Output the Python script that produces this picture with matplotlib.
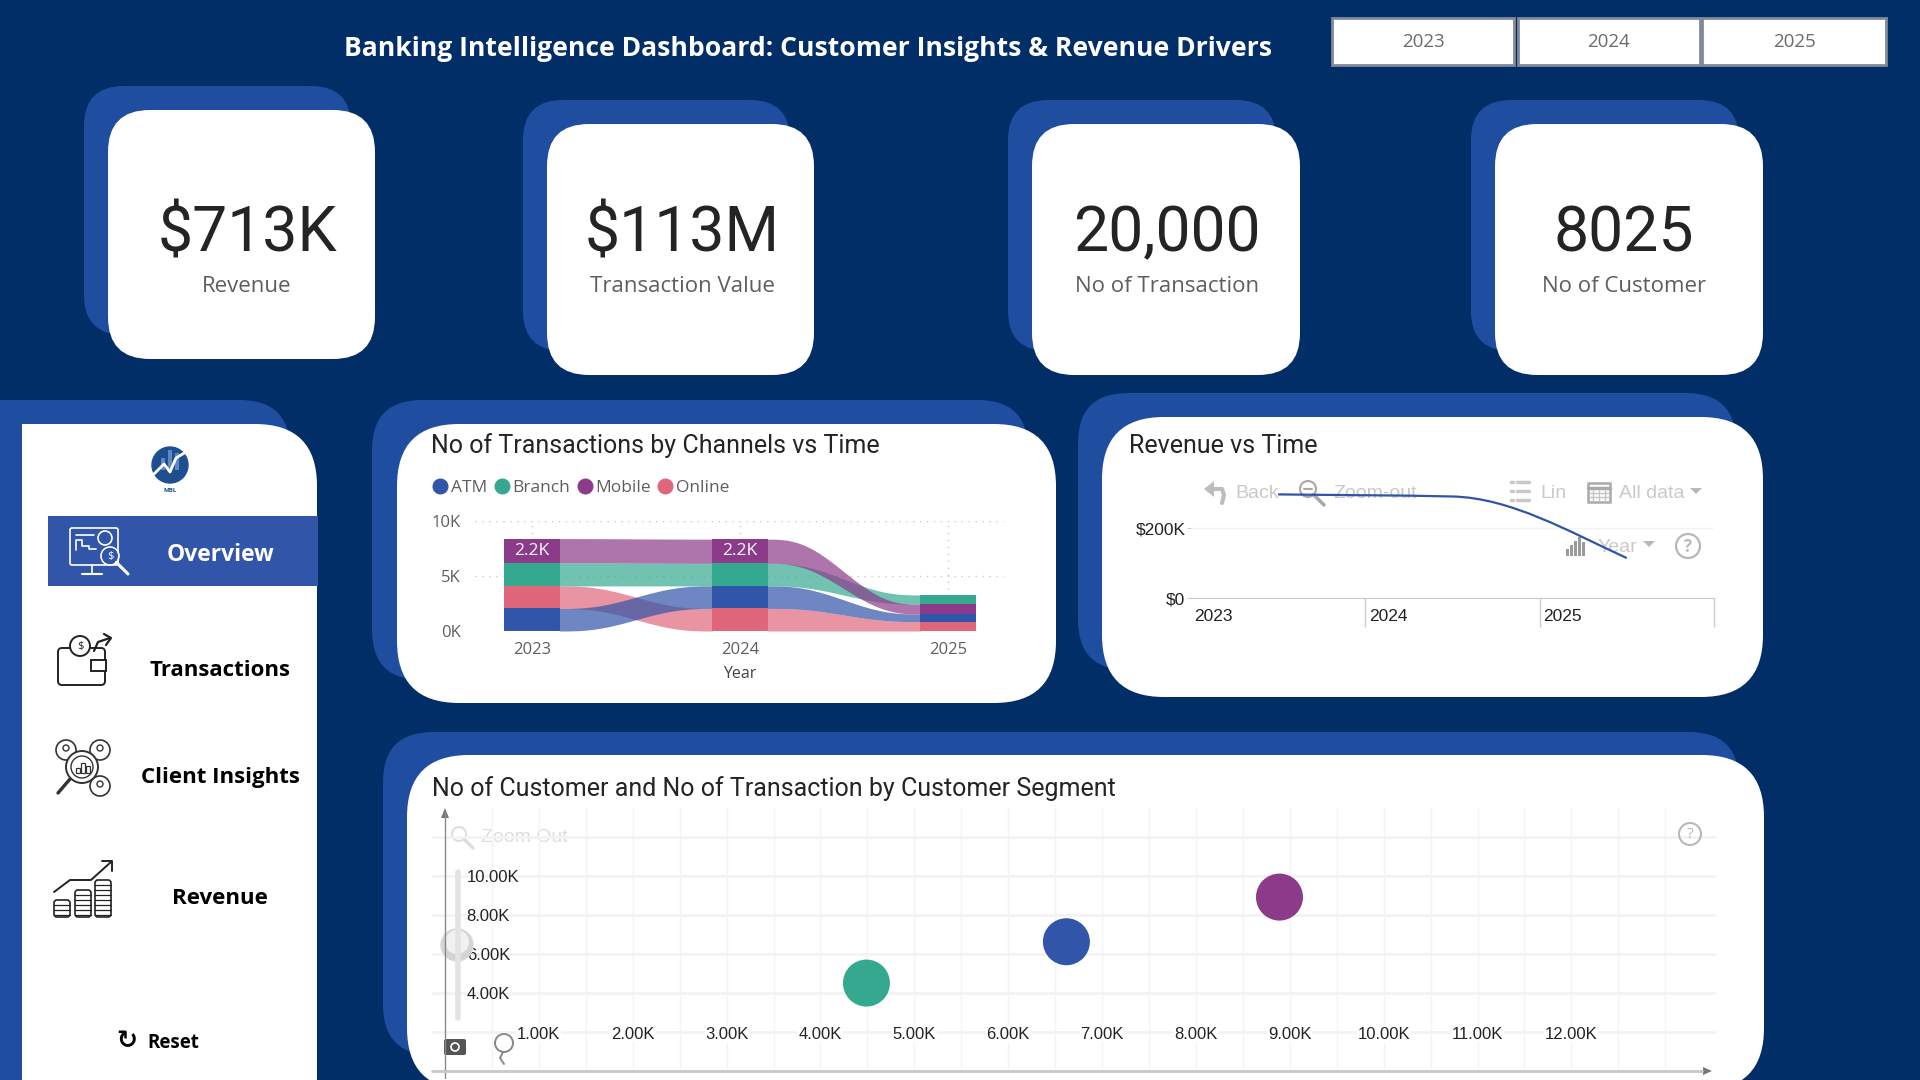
import numpy as np
import matplotlib
matplotlib.use("Agg")
import matplotlib.pyplot as plt
from matplotlib.lines import Line2D
from matplotlib.patches import Circle, FancyBboxPatch, PathPatch, Polygon, Rectangle
from matplotlib.path import Path

plt.rcParams["font.family"] = ["Open Sans", "DejaVu Sans"]

W, H = 1920, 1080
NAVY = "#012E67"
BLUE = "#1F4EA1"
GREY_TXT = "#605E5C"
TOOL = "#c9c9c9"

# --- data -----------------------------------------------------------------
title = "Banking Intelligence Dashboard: Customer Insights & Revenue Drivers"
year_buttons = ["2023", "2024", "2025"]
kpi_values = ["$713K", "$113M", "20,000", "8025"]
kpi_labels = ["Revenue", "Transaction Value", "No of Transaction", "No of Customer"]
nav_items = ["Transactions", "Client Insights", "Revenue"]

years = ["2023", "2024", "2025"]
channels = ["ATM", "Branch", "Mobile", "Online"]
channel_colours = ["#3155A8", "#35A98F", "#8C3A8A", "#E0677B"]
atm_tx = [2.05, 2.05, 0.70]
branch_tx = [2.10, 2.05, 0.85]
mobile_tx = [2.20, 2.20, 0.88]
online_tx = [2.05, 2.05, 0.85]
stack_2023 = ["ATM", "Online", "Branch", "Mobile"]
stack_2024 = ["Online", "ATM", "Branch", "Mobile"]
stack_2025 = ["Online", "ATM", "Mobile", "Branch"]

revenue_k = [296, 290, 114]

seg_transactions = [4.49, 6.62, 8.89]
seg_customers = [4.51, 6.63, 8.92]
seg_colours = ["#35A98F", "#3155A8", "#8C3A8A"]
x_labels = ["1.00K", "2.00K", "3.00K", "4.00K", "5.00K", "6.00K",
            "7.00K", "8.00K", "9.00K", "10.00K", "11.00K", "12.00K"]
x_label_pos = [1, 2, 3, 4, 5, 6, 7, 8, 9, 10, 11, 12]
y_labels = ["4.00K", "6.00K", "8.00K", "10.00K", ""]
y_label_pos = [4, 6, 8, 10, 12]


def px_axes(x0, y0, x1, y1, **kw):
    # axes placed by screen pixels, y measured from the top
    return fig.add_axes([x0 / W, 1 - y1 / H, (x1 - x0) / W, (y1 - y0) / H], **kw)


fig = plt.figure(figsize=(W / 100, H / 100), dpi=100, facecolor=NAVY)
bg = fig.add_axes([0, 0, 1, 1], zorder=0)
bg.set_xlim(0, W)
bg.set_ylim(H, 0)
bg.axis("off")


def card(x0, y0, x1, y1, r, colour, ax=bg, ec="none", lw=0):
    ax.add_patch(FancyBboxPatch((x0 + r, y0 + r), x1 - x0 - 2 * r, y1 - y0 - 2 * r,
                                boxstyle=f"round,pad={r},rounding_size={r}",
                                fc=colour, ec=ec, lw=lw))


def label(x, y, s, size=12, colour="#000000", ha="center", ax=bg, **kw):
    ax.text(x, y, s, fontsize=size, color=colour, ha=ha, va="center", **kw)


def line(xs, ys, colour, lw=1.5, ax=bg):
    ax.plot(xs, ys, color=colour, lw=lw, solid_capstyle="round")


def ring(x, y, r, colour, lw=1.5, fc="none", ax=bg):
    ax.add_patch(Circle((x, y), r, fc=fc, ec=colour, lw=lw))


def magnifier(x, y, r, colour, lw=1.5, ax=bg):
    ring(x, y, r, colour, lw, ax=ax)
    line([x + r * 0.7, x + r * 2], [y + r * 0.7, y + r * 2], colour, lw + 1, ax=ax)


# --- header and KPI cards -------------------------------------------------
label(808, 49, title, size=19.1, colour="white", fontweight="bold")
for i, (x0, x1) in enumerate([(1332, 1514), (1518, 1700), (1702, 1886)]):
    bg.add_patch(Rectangle((x0, 18), x1 - x0, 47, fc="white", ec="#808a98", lw=2))
    label((x0 + x1) / 2, 42, year_buttons[i], size=13.5, colour="#6b6b6b")

kpi_boxes = [(108, 375, 110, 359), (547, 814, 124, 375),
             (1032, 1300, 124, 375), (1495, 1763, 124, 375)]
kpi_centres = [247, 682, 1167, 1624]
for i, (x0, x1, y0, y1) in enumerate(kpi_boxes):
    card(x0 - 24, y0 - 24, x1 - 24, y1 - 24, 40, BLUE)
    card(x0, y0, x1, y1, 42, "white")
    label(kpi_centres[i], 234, kpi_values[i], size=45, colour="#252423", family="Roboto")
    label(kpi_centres[i], 287, kpi_labels[i], size=16, colour=GREY_TXT)

# --- sidebar --------------------------------------------------------------
card(-60, 400, 290, 1200, 50, BLUE)
card(22, 424, 317, 1200, 62, "white")
bg.add_patch(Rectangle((22, 424), 100, 100, fc="white", ec="none"))
ring(170, 465, 18, BLUE, 1, fc="#1F4E8F")
for bx, bh in zip([161, 168, 175], [12, 20, 17]):
    bg.add_patch(Rectangle((bx, 470 - bh), 4, bh, fc="#5f86c6", ec="none"))
line([154, 164, 170, 176, 186], [474, 464, 472, 458, 452], "white", 2)
label(170, 490, "MBL", size=4.5, colour="#1F4E8F", fontweight="bold")

bg.add_patch(Rectangle((48, 516), 270, 70, fc="#3155A8", ec="none"))
label(221, 555, "Overview", size=16.5, colour="white", fontweight="bold")
for y, s in zip([670, 777, 898], nav_items):
    label(220, y, s, size=16, fontweight="bold")
label(173, 1043, "Reset", size=13.5, fontweight="bold", ha="center")
label(127, 1041, "\u21bb", size=18, fontweight="bold", family="DejaVu Sans")

# overview icon
bg.add_patch(FancyBboxPatch((70, 528), 48, 37, boxstyle="round,pad=0,rounding_size=2",
                            fc="none", ec="white", lw=1.2))
line([92, 92], [565, 573], "white", 1.2)
line([82, 102], [574, 574], "white", 1.5)
line([76, 76, 82, 82, 89, 89, 96], [550, 540, 540, 546, 546, 549, 549], "white", 1.2)
line([76, 94], [535, 535], "white", 1.2)
ring(105, 538, 7, "white", 1.2)
magnifier(110, 556, 9, "white", 1.2)
bg.add_patch(Circle((110, 556), 8, fc="#3155A8", ec="none"))
label(110, 556, "$", size=8, colour="white")

# wallet icon
bg.add_patch(FancyBboxPatch((58, 648), 47, 37, boxstyle="round,pad=0,rounding_size=4",
                            fc="white", ec="#222222", lw=1.4))
bg.add_patch(Rectangle((91, 660), 15, 11, fc="white", ec="#222222", lw=1.4))
ring(80, 646, 10, "#222222", 1.4, fc="white")
label(80, 646, "$", size=8, colour="#222222")
line([94, 98, 110], [651, 642, 638], "#222222", 1.6)
line([104, 111, 106], [634, 638, 645], "#222222", 1.6)

# people icon
for cx, cy in [(66, 750), (100, 750), (100, 786)]:
    ring(cx, cy, 10, "#333333", 1.2, fc="white")
    ring(cx, cy - 2, 3, "#333333", 1)
ring(82, 767, 16, "#333333", 1.4, fc="white")
line([70, 58], [779, 793], "#333333", 2.4)
ring(82, 767, 11, "#333333", 1)
for bx, bh in zip([76, 81, 86], [5, 10, 7]):
    bg.add_patch(Rectangle((bx, 773 - bh), 4, bh, fc="white", ec="#333333", lw=0.9))

# coins icon
for cx, y_top in zip([62, 83, 103], [900, 890, 880]):
    bg.add_patch(FancyBboxPatch((cx - 8, y_top), 16, 917 - y_top,
                                boxstyle="round,pad=0,rounding_size=3",
                                fc="white", ec="#222222", lw=1.2))
    for ly in np.arange(y_top + 5, 917, 5):
        line([cx - 8, cx + 8], [ly, ly], "#222222", 0.9)
line([54, 70, 91, 111], [892, 880, 880, 862], "#222222", 1.4)
line([102, 112, 112], [861, 861, 871], "#222222", 1.4)

# --- chart cards ----------------------------------------------------------
card(372, 400, 1028, 680, 50, BLUE)
card(397, 424, 1056, 703, 62, "white")
card(1078, 393, 1736, 670, 50, BLUE)
card(1102, 417, 1763, 697, 62, "white")
card(383, 732, 1739, 1055, 50, BLUE)
card(407, 755, 1764, 1090, 62, "white")

label(431, 446, "No of Transactions by Channels vs Time", size=18, colour="#252423",
      ha="left", family="Roboto")
label(1129, 446, "Revenue vs Time", size=18, colour="#252423", ha="left", family="Roboto")
label(432, 789, "No of Customer and No of Transaction by Customer Segment", size=18,
      colour="#252423", ha="left", family="Roboto")

# --- ribbon chart ---------------------------------------------------------
ax1 = px_axes(475, 521, 1004, 631, facecolor="none", zorder=2)
values = {"ATM": atm_tx, "Branch": branch_tx, "Mobile": mobile_tx, "Online": online_tx}
colours = dict(zip(channels, channel_colours))
stacks = [stack_2023, stack_2024, stack_2025]
x_pos = np.arange(len(years))
bar_w = 0.264

bottoms = []
for i, order in enumerate(stacks):
    running = 0.0
    base = {}
    for ch in order:
        base[ch] = running
        running += values[ch][i]
    bottoms.append(base)

t = np.linspace(0, 1, 80)
ease = t ** 3 * (t * (6 * t - 15) + 10)
for ch in ["Online", "ATM", "Branch", "Mobile"]:
    for i in range(len(years) - 1):
        lo = bottoms[i][ch] + (bottoms[i + 1][ch] - bottoms[i][ch]) * ease
        top0 = bottoms[i][ch] + values[ch][i]
        top1 = bottoms[i + 1][ch] + values[ch][i + 1]
        hi = top0 + (top1 - top0) * ease
        xs = x_pos[i] + bar_w / 2 + (1 - bar_w) * t
        ax1.fill_between(xs, lo, hi, color=colours[ch], alpha=0.7, lw=0, zorder=2)
    for i in range(len(years)):
        ax1.bar(x_pos[i], values[ch][i], bottom=bottoms[i][ch], width=bar_w + 0.004,
                color=colours[ch], lw=0, zorder=3)

for i in (0, 1):
    ax1.text(x_pos[i], bottoms[i]["Mobile"] + mobile_tx[i] / 2, f"{mobile_tx[i]:.1f}K",
             color="white", fontsize=12.5, ha="center", va="center", zorder=4)

ax1.set_xlim(-0.274, 2.27)
ax1.set_ylim(0, 10)
ax1.set_xticks(x_pos, years)
ax1.set_yticks([0, 5, 10], ["0K", "5K", "10K"])
ax1.tick_params(length=0, labelsize=12, labelcolor=GREY_TXT)
ax1.tick_params(axis="x", pad=8)
ax1.tick_params(axis="y", pad=10)
ax1.set_xlabel("Year", fontsize=11.5, color="#444444", labelpad=5.5)
ax1.grid(True, linestyle=(0, (1, 4)), color="#c8c8c8", linewidth=1)
ax1.set_axisbelow(True)
for s in ax1.spines.values():
    s.set_visible(False)

legend_handles = [Line2D([], [], marker="o", ls="none", ms=10.5, color=c, label=n)
                  for n, c in zip(channels, channel_colours)]
ax1.legend(handles=legend_handles, ncol=4, frameon=False, fontsize=12.5,
           labelcolor=GREY_TXT, loc="center left", bbox_to_anchor=(-0.079, 1.30),
           handlelength=0.8, handletextpad=0.2, columnspacing=0.45, borderpad=0, borderaxespad=0)

# --- revenue toolbar and line ---------------------------------------------
tool_font = {"size": 14, "colour": TOOL, "family": "Liberation Sans"}
label(1235, 493, "Back", ha="left", **tool_font)
label(1333, 493, "Zoom-out", ha="left", **tool_font)
label(1540, 493, "Lin", ha="left", **tool_font)
label(1619, 493, "All data", ha="left", **tool_font)
label(1598, 548, "Year", ha="left", **tool_font)
# back arrow
line([1210, 1222, 1224, 1222], [489, 489, 495, 503], "#bdbdbd", 3)
bg.add_patch(Polygon([(1204, 489), (1214, 481), (1214, 497)], fc="#bdbdbd", ec="none"))
magnifier(1308, 489, 8, "#a8a8a8", 1.5)
line([1304, 1312], [489, 489], "#a8a8a8", 1.5)
for ly in [482, 491, 500]:
    line([1511, 1513], [ly, ly], TOOL, 2.5)
    line([1517, 1529], [ly, ly], TOOL, 2.5)
bg.add_patch(Rectangle((1588, 483), 22, 19, fc="none", ec="#aaaaaa", lw=1.8))
line([1588, 1610], [488, 488], "#aaaaaa", 2.5)
for gx in [1593, 1599, 1605]:
    line([gx, gx], [490, 500], "#c4c4c4", 1)
for gy in [493, 497]:
    line([1589, 1609], [gy, gy], "#c4c4c4", 1)
for bx, bh in zip([1566, 1570, 1574, 1578, 1582], [7, 11, 15, 19, 14]):
    bg.add_patch(Rectangle((bx, 556 - bh), 3, bh, fc="#9a9a9a", ec="none"))
for cx, cy in [(1696, 491), (1649, 544)]:
    bg.add_patch(Polygon([(cx - 6, cy - 3), (cx + 6, cy - 3), (cx, cy + 3)], fc="#b8b8b8", ec="none"))
ring(1688, 546, 12, "#b8b8b8", 1.6)
label(1688, 547, "?", size=12, colour="#b8b8b8", fontweight="bold")

ax2 = px_axes(1191, 458, 1714, 598, facecolor="none", zorder=2)
cx = np.array([0.5, 1.5, 2.5])
d0, d1 = revenue_k[1] - revenue_k[0], revenue_k[2] - revenue_k[1]
m0 = d0
m1 = 2 * d0 * d1 / (d0 + d1)
m2 = 1.3 * d1
verts = [(cx[0], revenue_k[0]),
         (cx[0] + 1 / 3, revenue_k[0] + m0 / 3), (cx[1] - 1 / 3, revenue_k[1] - m1 / 3), (cx[1], revenue_k[1]),
         (cx[1] + 1 / 3, revenue_k[1] + m1 / 3), (cx[2] - 1 / 3, revenue_k[2] - m2 / 3), (cx[2], revenue_k[2])]
codes = [Path.MOVETO] + [Path.CURVE4] * 6
ax2.add_patch(PathPatch(Path(verts, codes), fc="none", ec="#2F55A4", lw=1.6, zorder=3))
ax2.set_xlim(0, 3)
ax2.set_ylim(0, 400)
ax2.set_yticks([0, 200], ["$0", "$200K"])
ax2.set_xticks([1, 2, 3], minor=True)
ax2.set_xticks([0.02, 1.02, 2.02], years, ha="left")
ax2.tick_params(axis="x", which="major", length=0, pad=8, labelsize=12.5, labelcolor="#222222",
                labelfontfamily="Liberation Sans")
ax2.tick_params(axis="x", which="minor", length=21, color="#cccccc", width=1)
ax2.tick_params(axis="y", length=3, color="#cccccc", pad=1, labelsize=12.5, labelcolor="#222222",
                labelfontfamily="Liberation Sans")
ax2.grid(True, axis="y", color="#f3f3f3", lw=1)
ax2.set_axisbelow(True)
for s in ("top", "left", "right"):
    ax2.spines[s].set_visible(False)
ax2.spines["bottom"].set_color("#cccccc")

# --- bubble chart ---------------------------------------------------------
ax3 = px_axes(432, 808, 1716, 1071, facecolor="none", zorder=2)
ax3.set_xlim(-0.138, 13.54)
ax3.set_ylim(0, 13.49)
ax3.set_xticks(x_label_pos, x_labels)
ax3.set_xticks(np.arange(0.5, 13.5, 0.5), minor=True)
ax3.set_yticks(y_label_pos, y_labels)
ax3.tick_params(which="both", length=0)
ax3.tick_params(axis="x", pad=-32, labelsize=12, labelcolor="#222222", labelfontfamily="Liberation Sans")
ax3.tick_params(axis="y", pad=-25, labelsize=12, labelcolor="#222222", labelfontfamily="Liberation Sans")
for lab in ax3.get_yticklabels():
    lab.set_horizontalalignment("left")
for lab in ax3.get_xticklabels():
    lab.set_bbox(dict(fc="white", ec="none", pad=0.5))
ax3.axhline(2, color="#f3f3f3", lw=2, zorder=0.1)
ax3.grid(True, axis="y", color="#f3f3f3", lw=2)
ax3.grid(True, axis="x", which="both", color="#f4f4f4", lw=1)
ax3.set_axisbelow(True)
for s in ax3.spines.values():
    s.set_visible(False)
ax3.scatter(seg_transactions, seg_customers, s=1145, c=seg_colours, lw=0, zorder=3)

label(481, 837, "Zoom Out", size=14, colour="#dddddd", ha="left", family="Liberation Sans")
magnifier(459, 834, 7, "#dddddd", 1.4)

top = fig.add_axes([0, 0, 1, 1], zorder=5, facecolor="none")
top.set_xlim(0, W)
top.set_ylim(H, 0)
top.axis("off")
line([445, 445], [812, 1078], "#8a8a8a", 1, ax=top)
line([432, 1702], [1071, 1071], "#c8c8c8", 2, ax=top)
top.add_patch(Polygon([(445, 808), (441, 818), (449, 818)], fc="#777777", ec="none"))
top.add_patch(Polygon([(1712, 1071), (1703, 1067), (1703, 1075)], fc="#777777", ec="none"))
line([458, 458], [872, 1018], "#e3e3e3", 4, ax=top)
top.add_patch(Circle((457, 945), 16, fc="#d4d4d4", ec="#d8d8d8", lw=1))
top.add_patch(Circle((457, 942), 12, fc="#f1f1f1", ec="none"))
ring(1690, 834, 11, "#b8b8b8", 1.5, ax=top)
label(1690, 835, "?", size=11, colour="#b8b8b8", ax=top)
top.add_patch(FancyBboxPatch((444, 1039), 22, 16, boxstyle="round,pad=0,rounding_size=2",
                             fc="#555555", ec="none"))
ring(455, 1047, 4, "white", 1.2, ax=top)
ring(504, 1043, 9, "#888888", 1.4, ax=top)
line([503, 500, 504], [1052, 1058, 1064], "#888888", 1.4, ax=top)

fig.savefig("out.png", dpi=100, facecolor=NAVY)
